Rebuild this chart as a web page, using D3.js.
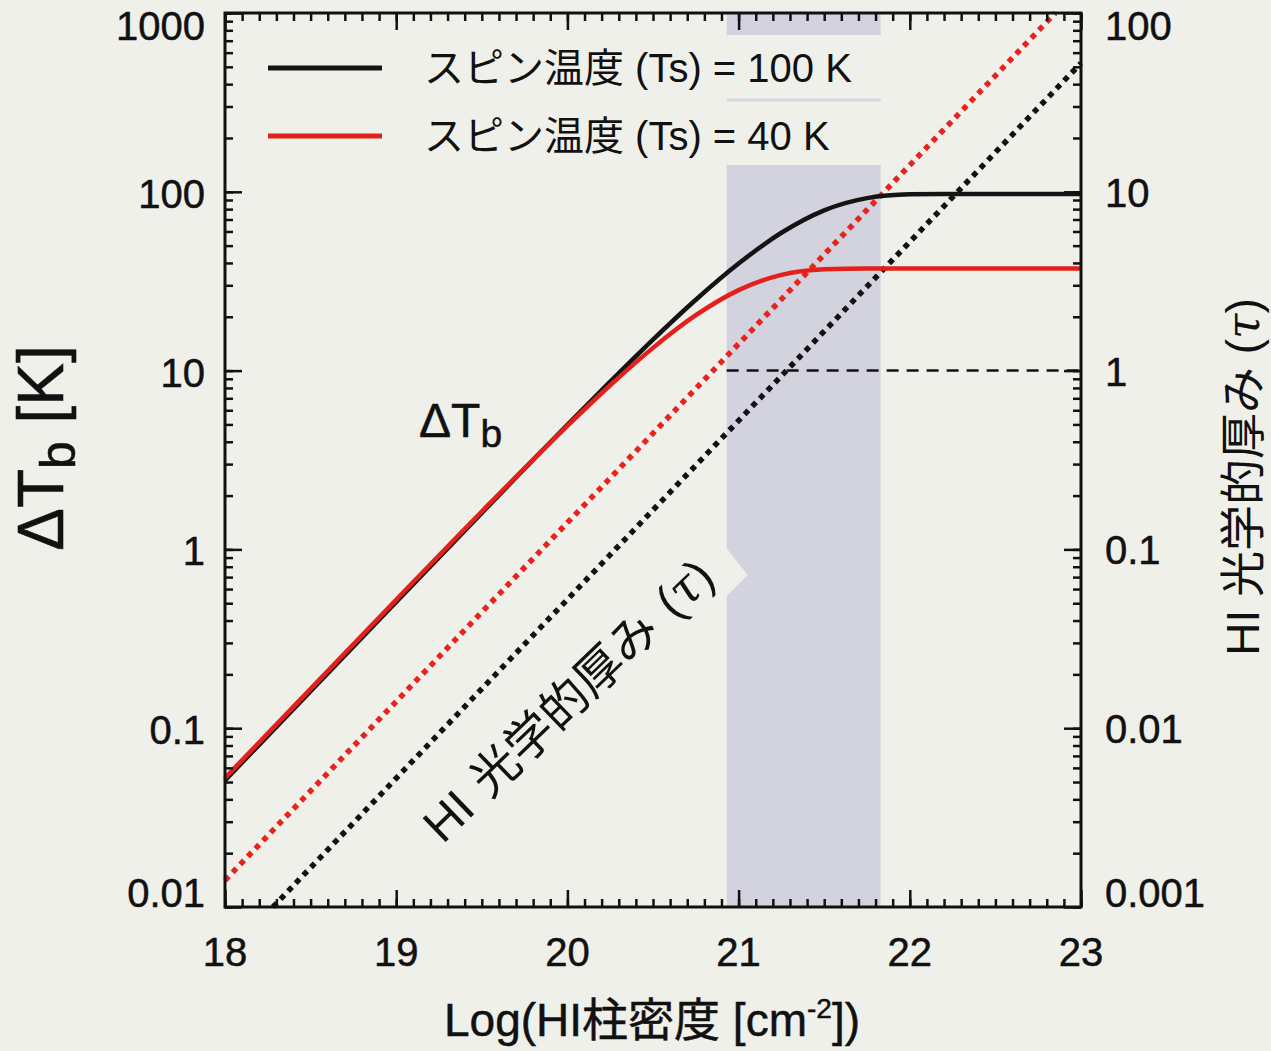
<!DOCTYPE html>
<html>
<head>
<meta charset="utf-8">
<script src="https://cdn.jsdelivr.net/npm/d3@7"></script>
<style>
  body { margin: 0; background: #f0f0eb; }
  text { font-family: "Liberation Sans", "Noto Sans CJK JP", sans-serif; fill: #111; }
</style>
</head>
<body>
<div id="chart"></div>
<script>
// values
const logN = [18, 18.5, 19, 19.5, 20, 20.25, 20.5, 20.75, 21, 21.25, 21.5, 21.75, 22, 22.25, 22.5, 23];
const tb100 = [0.0511, 0.161, 0.509, 1.60, 4.98, 8.67, 14.9, 24.9, 39.7, 59.0, 78.8, 92.2, 96.8, 97.3, 97.3, 97.3];
const tb40 = [0.0527, 0.166, 0.523, 1.63, 4.91, 8.28, 13.4, 20.4, 28.2, 34.3, 36.9, 37.3, 37.3, 37.3, 37.3, 37.3];

const tauX100 = [18.28, 19, 20, 21, 22, 23];
const tau100 = [0.001, 0.00525, 0.0525, 0.525, 5.25, 52.5];
const tauX40 = [18, 19, 20, 21, 22, 22.85];
const tau40 = [0.00141, 0.0141, 0.141, 1.41, 14.1, 100];

const bandRange = [20.93, 21.83];
const tauOneX = [20.93, 23];
const tauOne = 1;

const xTicks = [18, 19, 20, 21, 22, 23];
const leftTicks = [0.01, 0.1, 1, 10, 100, 1000];
const leftLabels = ["0.01", "0.1", "1", "10", "100", "1000"];
const rightTicks = [0.001, 0.01, 0.1, 1, 10, 100];
const rightLabels = ["0.001", "0.01", "0.1", "1", "10", "100"];

const legendItems = [
  { label: "スピン温度 (Ts) = 100 K", color: "#141414" },
  { label: "スピン温度 (Ts) = 40 K", color: "#e3201b" }
];

const width = 1271, height = 1051;
const pL = 225, pR = 1081, pT = 13, pB = 907;
const bg = "#f0f0eb";

const svg = d3.select("#chart").append("svg")
  .attr("width", width)
  .attr("height", height);

svg.append("rect").attr("width", width).attr("height", height).attr("fill", bg);

const x = d3.scaleLinear().domain([18, 23]).range([pL, pR]);
const yL = d3.scaleLog().domain([0.01, 1000]).range([pB, pT]);
const yR = d3.scaleLog().domain([0.001, 100]).range([pB, pT]);

// shaded band
svg.append("rect")
  .attr("x", x(bandRange[0]))
  .attr("y", pT)
  .attr("width", x(bandRange[1]) - x(bandRange[0]))
  .attr("height", pB - pT)
  .attr("fill", "#d2d3de");

// legend backing covers the band, leaving a faint line
svg.append("rect")
  .attr("x", x(bandRange[0]) - 1).attr("y", 35)
  .attr("width", x(bandRange[1]) - x(bandRange[0]) + 2).attr("height", 130)
  .attr("fill", bg);
svg.append("line")
  .attr("x1", x(bandRange[0])).attr("x2", x(bandRange[1]))
  .attr("y1", 100).attr("y2", 100)
  .attr("stroke", "#d6d7df").attr("stroke-width", 3);
// small notch left by the label backing
svg.append("polygon")
  .attr("points", [[x(bandRange[0]) - 1, 547], [x(bandRange[0]) + 21, 575], [x(bandRange[0]) - 1, 597]].join(" "))
  .attr("fill", bg);

// tau = 1 dashed line
svg.append("line")
  .attr("x1", x(tauOneX[0])).attr("x2", x(tauOneX[1]))
  .attr("y1", yR(tauOne)).attr("y2", yR(tauOne))
  .attr("stroke", "#111").attr("stroke-width", 2.5)
  .attr("stroke-dasharray", "12 8");

// dotted optical depth lines
const tauLine = d3.line().x(d => x(d[0])).y(d => yR(d[1]));
svg.append("path")
  .attr("d", tauLine(d3.zip(tauX40, tau40)))
  .attr("fill", "none").attr("stroke", "#e8231d")
  .attr("stroke-width", 5.5).attr("stroke-dasharray", "5.5 5.5");
svg.append("path")
  .attr("d", tauLine(d3.zip(tauX100, tau100)))
  .attr("fill", "none").attr("stroke", "#111")
  .attr("stroke-width", 5.5).attr("stroke-dasharray", "5.5 5.5");

// brightness temperature curves
const tbLine = d3.line().x(d => x(d[0])).y(d => yL(d[1])).curve(d3.curveMonotoneX);
svg.append("path")
  .attr("d", tbLine(d3.zip(logN, tb100)))
  .attr("fill", "none").attr("stroke", legendItems[0].color).attr("stroke-width", 4.5);
svg.append("path")
  .attr("d", tbLine(d3.zip(logN, tb40)))
  .attr("fill", "none").attr("stroke", legendItems[1].color).attr("stroke-width", 4.5);

// ticks (inward on all four sides)
const xMinor = x.ticks(50);
const yMinor = yL.ticks();
const yMinorR = yR.ticks();

function tickAxis(axis, tx, ty) {
  const g = svg.append("g").attr("transform", `translate(${tx},${ty})`).call(axis);
  g.select(".domain").remove();
  g.selectAll(".tick line").attr("stroke", "#111").attr("stroke-width", 2.5);
  g.selectAll(".tick text").remove();
  return g;
}
tickAxis(d3.axisBottom(x).tickValues(xMinor).tickSize(-8), 0, pB);
tickAxis(d3.axisBottom(x).tickValues(xTicks).tickSize(-17), 0, pB);
tickAxis(d3.axisTop(x).tickValues(xMinor).tickSize(-8), 0, pT);
tickAxis(d3.axisTop(x).tickValues(xTicks).tickSize(-17), 0, pT);
tickAxis(d3.axisLeft(yL).tickValues(yMinor).tickSize(-8), pL, 0);
tickAxis(d3.axisLeft(yL).tickValues(leftTicks).tickSize(-17), pL, 0);
tickAxis(d3.axisRight(yR).tickValues(yMinorR).tickSize(-8), pR, 0);
tickAxis(d3.axisRight(yR).tickValues(rightTicks).tickSize(-17), pR, 0);

// frame
svg.append("rect")
  .attr("x", pL).attr("y", pT)
  .attr("width", pR - pL).attr("height", pB - pT)
  .attr("fill", "none").attr("stroke", "#111").attr("stroke-width", 3);

// tick labels
const clampY = v => Math.max(pT + 13, Math.min(pB - 14, v));
svg.append("g").selectAll("text").data(leftTicks).join("text")
  .attr("x", 205)
  .attr("y", d => clampY(yL(d) + 2))
  .attr("text-anchor", "end")
  .attr("dominant-baseline", "central")
  .attr("font-size", 40)
  .attr("stroke", "#111").attr("stroke-width", 0.5)
  .text((d, i) => leftLabels[i]);

svg.append("g").selectAll("text").data(rightTicks).join("text")
  .attr("x", 1105)
  .attr("y", d => clampY(yR(d) + 1))
  .attr("text-anchor", "start")
  .attr("dominant-baseline", "central")
  .attr("font-size", 40)
  .attr("stroke", "#111").attr("stroke-width", 0.5)
  .text((d, i) => rightLabels[i]);

svg.append("g").selectAll("text").data(xTicks).join("text")
  .attr("x", d => x(d))
  .attr("y", 966)
  .attr("text-anchor", "middle")
  .attr("font-size", 40)
  .attr("stroke", "#111").attr("stroke-width", 0.5)
  .text(d => d);

// axis titles
const xt = svg.append("text")
  .attr("x", 652).attr("y", 1036)
  .attr("text-anchor", "middle")
  .attr("font-size", 46)
  .attr("stroke", "#111").attr("stroke-width", 0.5);
xt.append("tspan").text("Log(HI柱密度 [cm");
xt.append("tspan").attr("dy", -18).attr("font-size", 28).text("-2");
xt.append("tspan").attr("dy", 18).text("])");

const lt = svg.append("text")
  .attr("transform", "translate(63,448) rotate(-90)")
  .attr("text-anchor", "middle")
  .attr("font-size", 64)
  .attr("stroke", "#111").attr("stroke-width", 0.6);
lt.append("tspan").text("ΔT");
lt.append("tspan").attr("dy", 12).attr("font-size", 50).text("b");
lt.append("tspan").attr("dy", -12).text(" [K]");

const rt = svg.append("text")
  .attr("transform", "translate(1259,477) rotate(-90)")
  .attr("text-anchor", "middle")
  .attr("font-size", 46);
rt.append("tspan").text("HI 光学的厚み (");
rt.append("tspan").attr("font-style", "italic").attr("font-family", "DejaVu Serif").text("τ");
rt.append("tspan").text(")");

// in-plot labels
const tbl = svg.append("text")
  .attr("x", 419).attr("y", 437)
  .attr("font-size", 48)
  .attr("stroke", "#111").attr("stroke-width", 0.5);
tbl.append("tspan").text("ΔT");
tbl.append("tspan").attr("dy", 10).attr("font-size", 39).text("b");

const dl = svg.append("text")
  .attr("transform", "translate(568,700) rotate(-44)")
  .attr("text-anchor", "middle")
  .attr("dominant-baseline", "central")
  .attr("font-size", 48);
dl.append("tspan").text("HI ");
dl.append("tspan").attr("dx", 4).text("光学的厚み ");
dl.append("tspan").attr("dx", 4).text("(");
dl.append("tspan").attr("font-style", "italic").attr("font-family", "DejaVu Serif").text("τ");
dl.append("tspan").text(")");

// legend
const lg = svg.append("g").selectAll("g").data(legendItems).join("g")
  .attr("transform", (d, i) => `translate(0,${68 + i * 68})`);
lg.append("line")
  .attr("x1", 268).attr("x2", 382)
  .attr("stroke", d => d.color).attr("stroke-width", 5);
lg.append("text")
  .attr("x", 424)
  .attr("dominant-baseline", "central")
  .attr("font-size", 40)
  .text(d => d.label);
</script>
</body>
</html>
